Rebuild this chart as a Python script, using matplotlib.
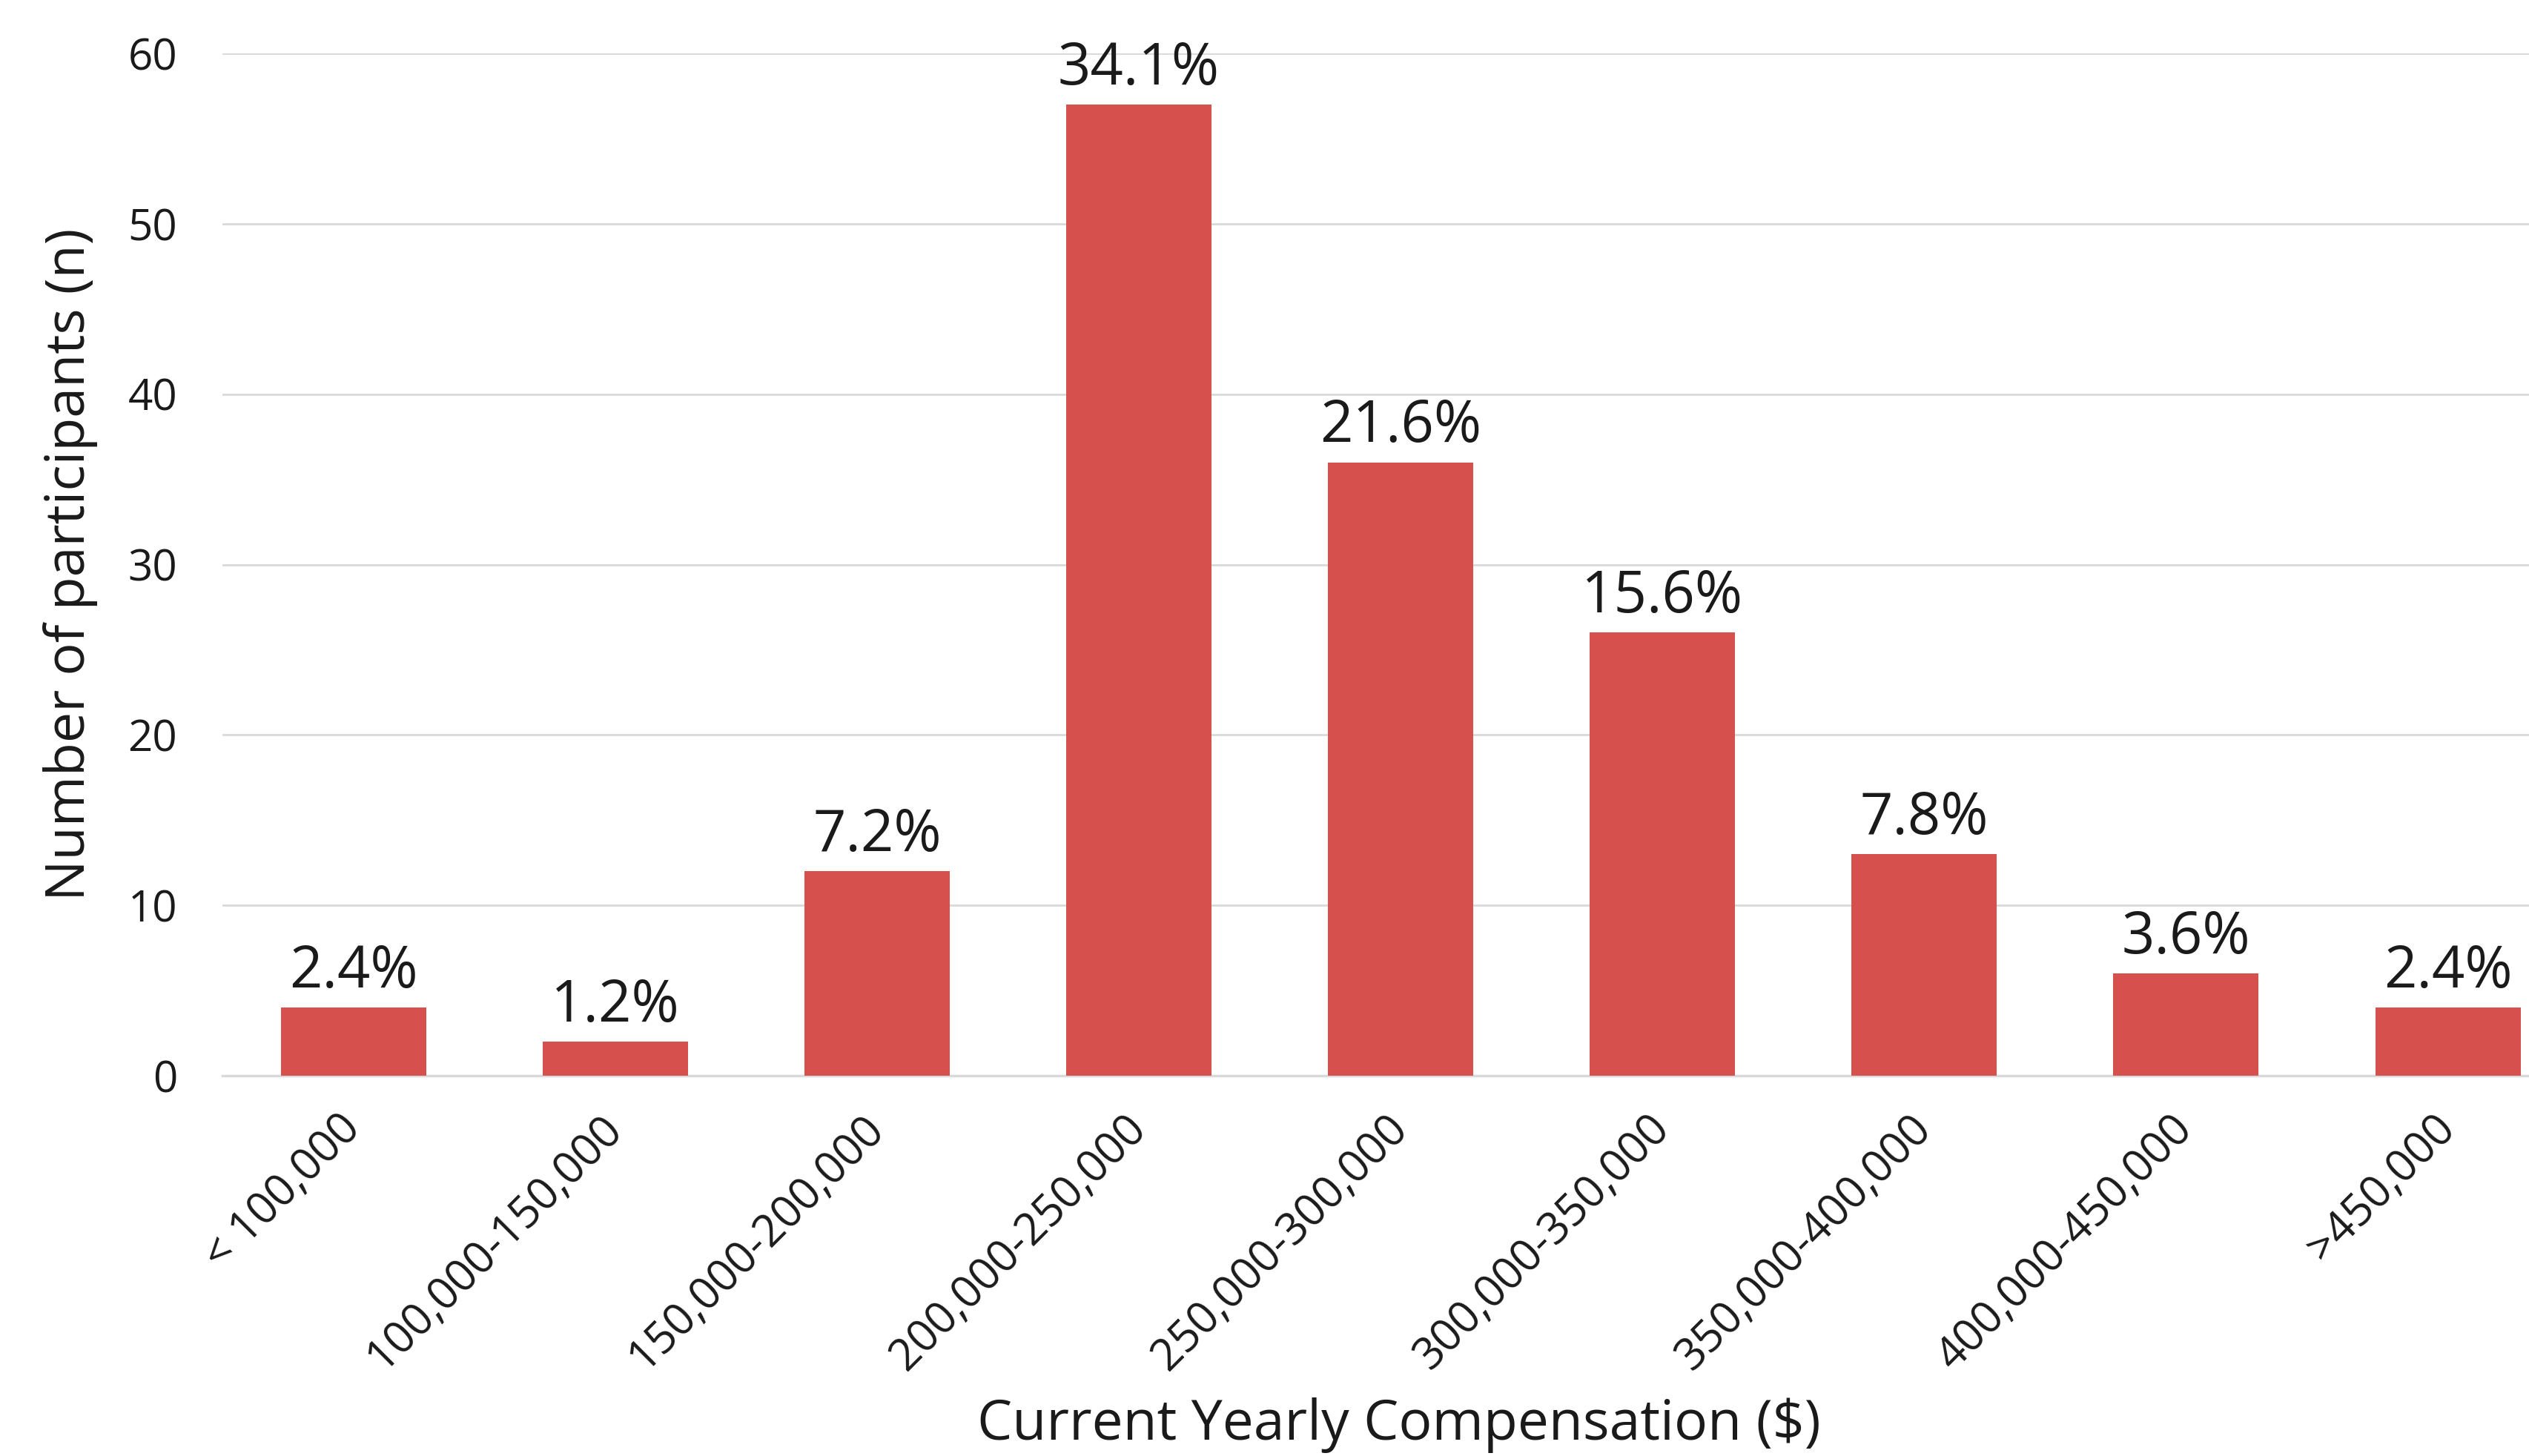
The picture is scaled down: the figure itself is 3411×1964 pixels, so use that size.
import matplotlib
matplotlib.use("Agg")
import matplotlib.pyplot as plt

# -----------------------------
# Data
# -----------------------------
categories = ["< 100,000", "100,000-150,000", "150,000-200,000", "200,000-250,000",
              "250,000-300,000", "300,000-350,000", "350,000-400,000",
              "400,000-450,000", ">450,000"]
counts = [4, 2, 12, 57, 36, 26, 13, 6, 4]
pct_labels = ["2.4%", "1.2%", "7.2%", "34.1%", "21.6%", "15.6%", "7.8%", "3.6%", "2.4%"]
y_ticks = [0, 10, 20, 30, 40, 50, 60]

bar_color = "#D6504D"
grid_color = "#D9D9D9"

plt.rcParams['font.family'] = ['Open Sans', 'DejaVu Sans']

# -----------------------------
# Figure
# -----------------------------
fig = plt.figure(figsize=(34.11, 19.64), dpi=100)
ax = fig.add_axes([0.088, 0.2612, 0.912, 0.7021])

x = list(range(len(categories)))
bars = ax.bar(x, counts, width=0.555, color=bar_color, zorder=3)

for xi, c, lab in zip(x, counts, pct_labels):
    ax.annotate(lab, (xi, c), xytext=(0, 6), textcoords="offset points",
                ha="center", va="bottom", fontsize=56, color="#1a1a1a")

ax.set_xlim(-0.5, 8.31)
ax.set_ylim(0, 60)
ax.set_yticks(y_ticks)
ax.yaxis.grid(True, color=grid_color, linewidth=2, zorder=0)
ax.set_axisbelow(True)

for s in ["top", "right", "left"]:
    ax.spines[s].set_visible(False)
ax.spines["bottom"].set_color(grid_color)
ax.spines["bottom"].set_linewidth(2.5)

ax.tick_params(axis="y", length=0, pad=44, labelsize=42, labelcolor="#1a1a1a")
ax.tick_params(axis="x", length=0, pad=45, labelsize=43, labelcolor="#1a1a1a")
ax.set_xticks(x)
ax.set_xticklabels(categories, rotation=45, ha="right", va="center",
                   rotation_mode="anchor")

ax.set_ylabel("Number of participants (n)", fontsize=53, color="#1a1a1a")
ax.yaxis.set_label_coords(-0.066, 0.5)
ax.set_xlabel("Current Yearly Compensation ($)", fontsize=54, color="#1a1a1a")
ax.xaxis.set_label_coords(0.51, -0.342)
ax.xaxis.label.set_va("center")
ax.yaxis.label.set_va("center")

fig.savefig("out.png", dpi=100)
